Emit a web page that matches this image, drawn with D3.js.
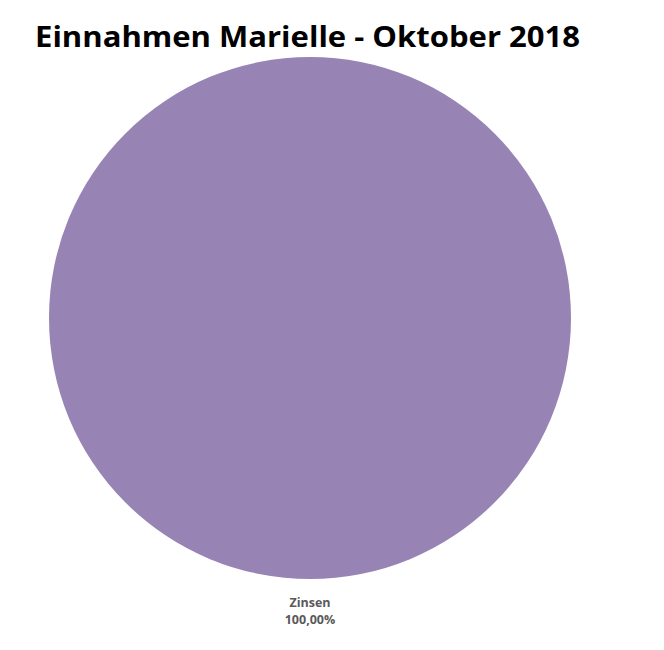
<!DOCTYPE html>
<html><head><meta charset="utf-8">
<script src="https://cdn.jsdelivr.net/npm/d3@7"></script>
<style>body{margin:0;background:#fff}</style>
</head><body>
<svg id="c" width="664" height="650"></svg>
<script>
const categories = ["Zinsen"];
const values = [100];
const percentLabels = ["100,00%"];
const title = "Einnahmen Marielle - Oktober 2018";

const svg = d3.select("#c");
svg.append("text").attr("x", 35).attr("y", 47)
  .attr("font-family", "Open Sans, sans-serif").attr("font-weight", "bold")
  .attr("font-size", 28.5).attr("fill", "#000")
  .attr("textLength", 545).attr("lengthAdjust", "spacingAndGlyphs")
  .text(title);

const cx = 310, cy = 318, r = 261;
const pie = d3.pie().sort(null).value(d => d);
const arc = d3.arc().innerRadius(0).outerRadius(r);
const g = svg.append("g").attr("transform", `translate(${cx},${cy})`);
const color = d3.scaleOrdinal().domain(categories).range(["#9883b5"]);
g.selectAll("path").data(pie(values)).join("path")
  .attr("d", arc).attr("fill", (d, i) => color(categories[i]));

const lab = svg.append("text").attr("text-anchor", "middle")
  .attr("font-family", "Open Sans, sans-serif").attr("font-weight", "bold")
  .attr("font-size", 12.5).attr("fill", "#595959");
lab.append("tspan").attr("x", cx).attr("y", 607).text(categories[0]);
lab.append("tspan").attr("x", cx).attr("y", 624).text(percentLabels[0]);
</script>
</body></html>
